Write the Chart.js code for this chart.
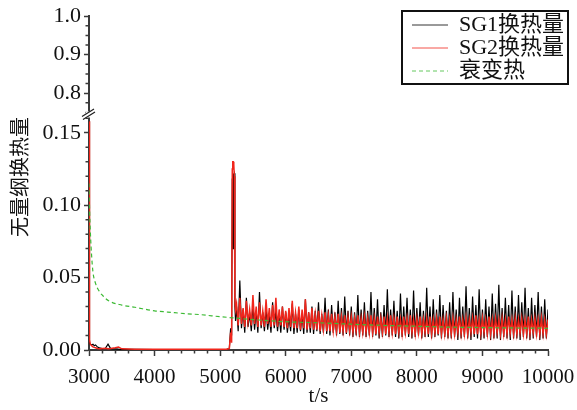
<!DOCTYPE html>
<html>
<head>
<meta charset="utf-8">
<script src="https://cdn.jsdelivr.net/npm/chart.js@4.4.1/dist/chart.umd.min.js"></script>
<style>
  html, body { margin: 0; padding: 0; background: #fff; }
  canvas { display: block; }
</style>
</head>
<body>
<canvas id="grafico" width="577" height="410"></canvas>
<script>
// Datos (tiempo en s, calor adimensional)
const xTicks = [3000, 4000, 5000, 6000, 7000, 8000, 9000, 10000];
const yTicksLow = [0, 0.05, 0.10, 0.15];
const yTicksHigh = [0.8, 0.9, 1.0];

const labelSG1 = 'SG1换热量';
const labelSG2 = 'SG2换热量';
const labelDecay = '衰变热';
const tituloY = '无量纲换热量';
const tituloX = 't/s';

// tramo inicial + pico de ~5200 s
const tPre = [3000, 3005, 3010, 3020, 3040, 3060, 3080, 3100, 3130, 3160,
  3200, 3250, 3290, 3330, 3400, 3450, 3500, 3700, 4000, 4300,
  4600, 4900, 5100, 5140, 5160, 5175, 5185, 5192, 5200, 5208,
  5216, 5225, 5235];
const sg1Pre = [0.158, 0.010, 0.005, 0.004, 0.0035, 0.004, 0.003, 0.0035, 0.002, 0.0015,
  0.001, 0.0012, 0.004, 0.001, 0.0008, 0.0006, 0.0005, 0.0004, 0.0003, 0.0003,
  0.0003, 0.0003, 0.0004, 0.001, 0.015, 0.010, 0.118, 0.122, 0.070, 0.121,
  0.122, 0.030, 0.020];
const sg2Pre = [0.158, 0.012, 0.007, 0.004, 0.003, 0.0022, 0.0018, 0.0015, 0.001, 0.0008,
  0.001, 0.0012, 0.0008, 0.001, 0.0015, 0.002, 0.0008, 0.0006, 0.0005, 0.0005,
  0.0005, 0.0005, 0.0005, 0.001, 0.012, 0.005, 0.125, 0.130, 0.130, 0.128,
  0.120, 0.035, 0.028];

// tramo oscilante despues del pico
const tPost = [
  5250, 5275, 5300, 5325, 5350, 5375, 5400, 5425, 5450, 5475,
  5500, 5525, 5550, 5575, 5600, 5625, 5650, 5675, 5700, 5725,
  5750, 5775, 5800, 5825, 5850, 5875, 5900, 5925, 5950, 5975,
  6000, 6025, 6050, 6075, 6100, 6125, 6150, 6175, 6200, 6225,
  6250, 6275, 6300, 6325, 6350, 6375, 6400, 6425, 6450, 6475,
  6500, 6525, 6550, 6575, 6600, 6625, 6650, 6675, 6700, 6725,
  6750, 6775, 6800, 6825, 6850, 6875, 6900, 6925, 6950, 6975,
  7000, 7025, 7050, 7075, 7100, 7125, 7150, 7175, 7200, 7225,
  7250, 7275, 7300, 7325, 7350, 7375, 7400, 7425, 7450, 7475,
  7500, 7525, 7550, 7575, 7600, 7625, 7650, 7675, 7700, 7725,
  7750, 7775, 7800, 7825, 7850, 7875, 7900, 7925, 7950, 7975,
  8000, 8025, 8050, 8075, 8100, 8125, 8150, 8175, 8200, 8225,
  8250, 8275, 8300, 8325, 8350, 8375, 8400, 8425, 8450, 8475,
  8500, 8525, 8550, 8575, 8600, 8625, 8650, 8675, 8700, 8725,
  8750, 8775, 8800, 8825, 8850, 8875, 8900, 8925, 8950, 8975,
  9000, 9025, 9050, 9075, 9100, 9125, 9150, 9175, 9200, 9225,
  9250, 9275, 9300, 9325, 9350, 9375, 9400, 9425, 9450, 9475,
  9500, 9525, 9550, 9575, 9600, 9625, 9650, 9675, 9700, 9725,
  9750, 9775, 9800, 9825, 9850, 9875, 9900, 9925, 9950, 9975,
  10000];
const sg1Post = [
  0.030, 0.013, 0.048, 0.015, 0.028, 0.012, 0.036, 0.016, 0.025, 0.013,
  0.031, 0.014, 0.027, 0.012, 0.040, 0.015, 0.026, 0.013, 0.029, 0.014,
  0.024, 0.012, 0.033, 0.015, 0.027, 0.013, 0.025, 0.012, 0.030, 0.014,
  0.026, 0.012, 0.023, 0.013, 0.032, 0.011, 0.025, 0.012, 0.028, 0.013,
  0.024, 0.011, 0.035, 0.012, 0.026, 0.012, 0.030, 0.011, 0.027, 0.013,
  0.033, 0.011, 0.025, 0.012, 0.036, 0.011, 0.028, 0.010, 0.031, 0.012,
  0.026, 0.010, 0.034, 0.011, 0.029, 0.010, 0.037, 0.011, 0.027, 0.010,
  0.030, 0.009, 0.026, 0.010, 0.038, 0.009, 0.028, 0.010, 0.033, 0.009,
  0.027, 0.010, 0.040, 0.009, 0.029, 0.010, 0.035, 0.008, 0.026, 0.009,
  0.031, 0.010, 0.042, 0.009, 0.028, 0.010, 0.034, 0.009, 0.027, 0.008,
  0.039, 0.009, 0.030, 0.010, 0.036, 0.009, 0.028, 0.008, 0.041, 0.009,
  0.029, 0.010, 0.033, 0.008, 0.027, 0.009, 0.043, 0.009, 0.030, 0.008,
  0.035, 0.009, 0.028, 0.010, 0.038, 0.008, 0.031, 0.009, 0.027, 0.008,
  0.033, 0.008, 0.040, 0.009, 0.028, 0.007, 0.036, 0.008, 0.030, 0.009,
  0.044, 0.008, 0.029, 0.007, 0.037, 0.009, 0.031, 0.008, 0.042, 0.007,
  0.028, 0.008, 0.035, 0.009, 0.030, 0.007, 0.039, 0.008, 0.032, 0.008,
  0.045, 0.007, 0.029, 0.009, 0.036, 0.008, 0.031, 0.007, 0.041, 0.008,
  0.030, 0.008, 0.038, 0.007, 0.033, 0.009, 0.043, 0.008, 0.029, 0.007,
  0.036, 0.008, 0.031, 0.009, 0.040, 0.007, 0.030, 0.008, 0.035, 0.008,
  0.028];
const sg2Post = [
  0.032, 0.017, 0.036, 0.018, 0.029, 0.016, 0.034, 0.019, 0.028, 0.017,
  0.038, 0.018, 0.030, 0.016, 0.033, 0.017, 0.027, 0.016, 0.035, 0.018,
  0.029, 0.016, 0.031, 0.017, 0.036, 0.016, 0.028, 0.017, 0.030, 0.016,
  0.027, 0.015, 0.029, 0.016, 0.034, 0.015, 0.026, 0.015, 0.030, 0.014,
  0.028, 0.015, 0.035, 0.014, 0.026, 0.015, 0.029, 0.014, 0.025, 0.014,
  0.027, 0.013, 0.024, 0.014, 0.026, 0.013, 0.024, 0.013, 0.025, 0.013,
  0.023, 0.013, 0.025, 0.012, 0.023, 0.013, 0.024, 0.012, 0.023, 0.013,
  0.023, 0.012, 0.022, 0.013, 0.024, 0.012, 0.022, 0.012, 0.023, 0.012,
  0.022, 0.012, 0.024, 0.012, 0.022, 0.011, 0.023, 0.012, 0.022, 0.012,
  0.023, 0.011, 0.022, 0.012, 0.024, 0.012, 0.022, 0.011, 0.023, 0.012,
  0.021, 0.011, 0.023, 0.012, 0.022, 0.011, 0.024, 0.012, 0.021, 0.011,
  0.022, 0.012, 0.023, 0.011, 0.021, 0.012, 0.022, 0.011, 0.023, 0.011,
  0.021, 0.012, 0.022, 0.011, 0.023, 0.011, 0.021, 0.011, 0.022, 0.011,
  0.021, 0.011, 0.022, 0.011, 0.021, 0.012, 0.023, 0.011, 0.021, 0.011,
  0.022, 0.011, 0.021, 0.012, 0.022, 0.011, 0.024, 0.011, 0.021, 0.011,
  0.022, 0.012, 0.021, 0.011, 0.023, 0.011, 0.021, 0.011, 0.022, 0.012,
  0.021, 0.011, 0.022, 0.011, 0.021, 0.011, 0.023, 0.012, 0.021, 0.011,
  0.022, 0.011, 0.021, 0.012, 0.022, 0.011, 0.021, 0.011, 0.023, 0.011,
  0.021, 0.012, 0.022, 0.011, 0.021, 0.011, 0.022, 0.011, 0.021, 0.011,
  0.021];

// calor de decaimiento (curva suave)
const tDecay = [3000, 3010, 3020, 3040, 3060, 3100, 3150, 3200, 3300, 3500,
  3700, 4000, 4200, 4500, 4700, 5000, 5200, 5500, 6000, 6500,
  7000, 7500, 8000, 8500, 9000, 9500, 10000];
const decay = [0.115, 0.095, 0.082, 0.065, 0.054, 0.046, 0.041, 0.038, 0.034, 0.031,
  0.0295, 0.027, 0.0262, 0.025, 0.0244, 0.023, 0.0222, 0.021, 0.0195, 0.0188,
  0.0178, 0.017, 0.0164, 0.0158, 0.0155, 0.0152, 0.015];

const fuente = "'Liberation Serif', 'Noto Sans CJK SC', serif";
const colorEje = '#3a3a3a';

function puntos(ts, vs) {
  return ts.map((t, i) => ({ x: t, y: vs[i] }));
}

// Dibuja ticks menores, corte del eje, titulo Y y marco de la leyenda
const extras = {
  id: 'extras',
  afterLayout(chart) {
    // mover la leyenda a la esquina superior derecha
    const lg = chart.legend;
    const w = lg.width;
    lg.left = 411; lg.right = lg.left + w;
    lg.top = 13; lg.bottom = lg.top + 72; lg.height = 72;
  },
  afterDraw(chart) {
    const ctx = chart.ctx;
    const xs = chart.scales.x, yl = chart.scales.y, yh = chart.scales.yHigh;
    const area = chart.chartArea;
    ctx.save();
    ctx.strokeStyle = colorEje;
    ctx.lineWidth = 1.5;
    ctx.beginPath();
    for (let v = 3200; v < 10000; v += 200) {
      if (v % 1000 === 0) continue;
      const px = Math.round(xs.getPixelForValue(v)) + 0.5;
      ctx.moveTo(px, area.bottom);
      ctx.lineTo(px, area.bottom + 3.5);
    }
    for (let k = 1; k <= 16; k++) {
      if (k % 5 === 0) continue;
      const py = yl.getPixelForValue(k / 100);
      ctx.moveTo(area.left - 3.5, py);
      ctx.lineTo(area.left, py);
    }
    for (let k = 0; k <= 10; k++) {
      if (k % 4 === 2) continue;
      const py = yh.getPixelForValue(0.75 + k * 0.025);
      ctx.moveTo(area.left - 3.5, py);
      ctx.lineTo(area.left, py);
    }
    ctx.stroke();

    // corte del eje
    const yb = yh.bottom;
    ctx.fillStyle = '#fff';
    ctx.fillRect(area.left - 3, yb - 1, 6, 6);
    ctx.strokeStyle = '#222';
    ctx.lineWidth = 1.3;
    ctx.beginPath();
    ctx.moveTo(area.left - 7, yb + 4); ctx.lineTo(area.left + 5, yb - 3.5);
    ctx.moveTo(area.left - 6, yb + 7); ctx.lineTo(area.left + 6, yb - 0.5);
    ctx.stroke();

    // titulo del eje Y
    ctx.fillStyle = '#111';
    ctx.font = '20px ' + fuente;
    ctx.textAlign = 'center';
    ctx.textBaseline = 'middle';
    ctx.translate(22, 177);
    ctx.rotate(-Math.PI / 2);
    ctx.fillText(tituloY, 0, 0);
    ctx.restore();

    // marco de la leyenda
    ctx.save();
    ctx.strokeStyle = '#111';
    ctx.lineWidth = 2;
    ctx.strokeRect(402, 11, 166, 73);
    ctx.restore();
  }
};

const ctx = document.getElementById('grafico').getContext('2d');
const chart = new Chart(ctx, {
  type: 'line',
  data: {
    datasets: [
      {
        label: labelSG1,
        data: puntos(tPre, sg1Pre).concat(puntos(tPost, sg1Post)),
        yAxisID: 'y',
        borderColor: '#000000',
        borderWidth: 1.2,
        pointRadius: 0,
        order: 2
      },
      {
        label: labelSG2,
        data: puntos(tPre, sg2Pre).concat(puntos(tPost, sg2Post)),
        yAxisID: 'y',
        borderColor: '#f0261c',
        borderWidth: 1.5,
        pointRadius: 0,
        order: 1
      },
      {
        label: labelDecay,
        data: puntos(tDecay, decay),
        yAxisID: 'y',
        borderColor: '#3dba35',
        borderWidth: 1.2,
        borderDash: [4, 3],
        pointRadius: 0,
        cubicInterpolationMode: 'monotone',
        order: 0
      }
    ]
  },
  options: {
    responsive: false,
    animation: false,
    layout: { padding: { left: 29, right: 29, top: 12, bottom: 0 } },
    plugins: {
      tooltip: { enabled: false },
      legend: {
        position: 'chartArea',
        align: 'start',
        labels: {
          usePointStyle: true,
          pointStyleWidth: 36,
          padding: 1,
          color: '#111',
          font: { family: fuente, size: 22 },
          sort: (a, b) => a.datasetIndex - b.datasetIndex,
          generateLabels(chart) {
            const items = Chart.defaults.plugins.legend.labels.generateLabels(chart);
            items.forEach(it => {
              const ds = chart.data.datasets[it.datasetIndex];
              it.pointStyle = 'line';
              it.strokeStyle = ds.borderColor;
              it.lineDash = ds.borderDash || [];
              it.lineWidth = 0.8;
            });
            return items;
          }
        }
      }
    },
    scales: {
      x: {
        type: 'linear',
        min: 3000,
        max: 10000,
        afterBuildTicks: s => { s.ticks = xTicks.map(v => ({ value: v })); },
        afterFit: s => { s.height = 60; s.paddingRight = 29; },
        grid: { drawOnChartArea: false, tickLength: 6, tickColor: colorEje, tickWidth: 1.5 },
        border: { color: colorEje, width: 2 },
        ticks: {
          autoSkip: false, maxRotation: 0, padding: 9, color: '#111',
          font: { family: fuente, size: 21 },
          callback: v => String(v)
        },
        title: {
          display: true, text: tituloX, color: '#111',
          font: { family: fuente, size: 21 },
          padding: { top: 0, bottom: 1 }
        }
      },
      yHigh: {
        type: 'linear',
        position: 'left',
        stack: 'v',
        stackWeight: 97.5,
        weight: 1,
        min: 0.75,
        max: 1.0,
        afterBuildTicks: s => { s.ticks = yTicksHigh.map(v => ({ value: v })); },
        afterFit: s => { s.width = 60; },
        grid: { drawOnChartArea: false, tickLength: 5, tickColor: colorEje, tickWidth: 1.5 },
        border: { color: colorEje, width: 2 },
        ticks: {
          autoSkip: false, padding: 3, color: '#111',
          font: { family: fuente, size: 22 },
          callback: v => v.toFixed(1)
        }
      },
      y: {
        type: 'linear',
        position: 'left',
        stack: 'v',
        stackWeight: 240.5,
        weight: 0,
        min: 0,
        max: 0.164,
        afterBuildTicks: s => { s.ticks = yTicksLow.map(v => ({ value: v })); },
        afterFit: s => { s.width = 60; },
        grid: { drawOnChartArea: false, tickLength: 5, tickColor: colorEje, tickWidth: 1.5 },
        border: { color: colorEje, width: 2 },
        ticks: {
          autoSkip: false, padding: 3, color: '#111',
          font: { family: fuente, size: 22 },
          callback: v => v.toFixed(2)
        }
      }
    }
  },
  plugins: [extras]
});
</script>
</body>
</html>
